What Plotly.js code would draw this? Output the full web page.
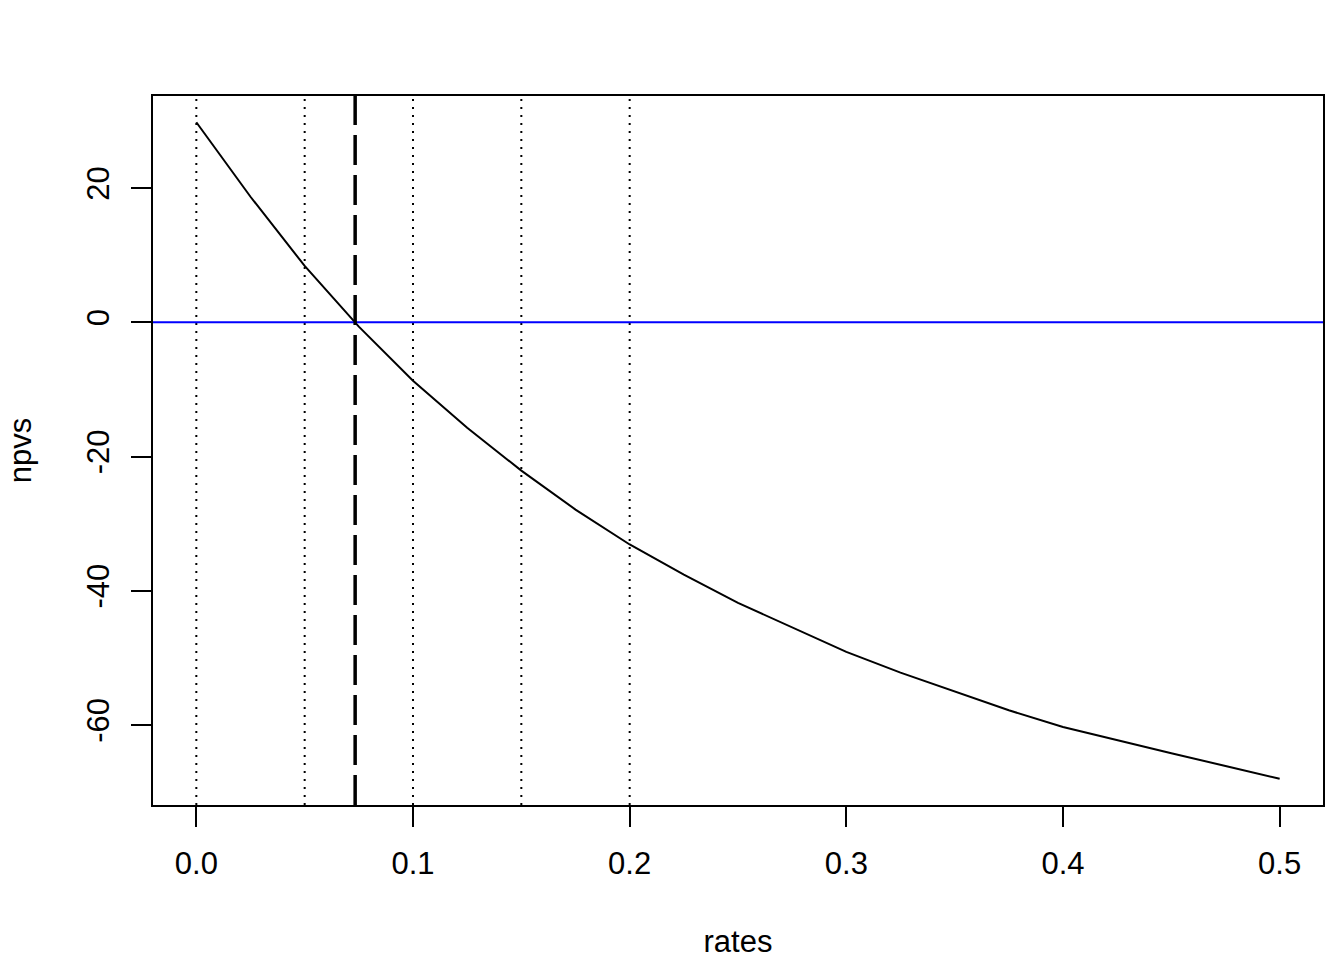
<!DOCTYPE html>
<html>
<head>
<meta charset="utf-8">
<script src="https://cdn.plot.ly/plotly-3.0.1.min.js"></script>
<style>html,body{margin:0;padding:0;background:#fff;}#chart{width:1344px;height:960px;}</style>
</head>
<body>
<div id="chart"></div>
<script>
// Data
const rates = [0, 0.025, 0.05, 0.075, 0.1, 0.125, 0.15, 0.175, 0.2, 0.225, 0.25,
               0.275, 0.3, 0.325, 0.35, 0.375, 0.4, 0.425, 0.45, 0.475, 0.5];
const npvs = [29.8, 18.7, 8.4, -0.65, -8.7, -15.7, -22.1, -27.9, -33.1, -37.6, -41.8,
              -45.4, -49.1, -52.2, -55.0, -57.8, -60.3, -62.3, -64.2, -66.1, -68.0];
const refRates = [0, 0.05, 0.1, 0.15, 0.2];
const irr = 0.0733;
const hLine = 0;
const xTickVals = [0, 0.1, 0.2, 0.3, 0.4, 0.5];
const xTickText = ["0.0", "0.1", "0.2", "0.3", "0.4", "0.5"];
const yTickVals = [-60, -40, -20, 0, 20];
const yTickText = ["-60", "-40", "-20", "0", "20"];

// R-style 4% axis extension
function ext(arr) {
  const mn = Math.min(...arr), mx = Math.max(...arr), d = (mx - mn) * 0.04;
  return [mn - d, mx + d];
}

const FONT = "Liberation Sans, Arial, sans-serif";
const FS = 31;

const shapes = [];
refRates.forEach(r => shapes.push({
  type: 'line', xref: 'x', yref: 'paper', x0: r, x1: r, y0: 0, y1: 1,
  line: {color: 'black', width: 2, dash: '2px,6px'}
}));
shapes.push({
  type: 'line', xref: 'paper', yref: 'y', x0: 0, x1: 1, y0: hLine, y1: hLine,
  line: {color: '#0000FF', width: 2}
});
shapes.push({
  type: 'line', xref: 'x', yref: 'paper', x0: irr, x1: irr, y0: 0, y1: 1,
  line: {color: 'black', width: 3.5, dash: '30px,10px'}
});

const trace = {
  x: rates, y: npvs, type: 'scatter', mode: 'lines',
  line: {color: 'black', width: 2}, hoverinfo: 'skip'
};

const layout = {
  width: 1344, height: 960,
  margin: {l: 153, r: 21, t: 96, b: 155},
  paper_bgcolor: '#fff', plot_bgcolor: '#fff',
  showlegend: false,
  font: {family: FONT, size: FS, color: 'black'},
  xaxis: {
    range: ext(rates), showgrid: false, zeroline: false,
    showline: true, mirror: true, linecolor: 'black', linewidth: 2,
    ticks: 'outside', ticklen: 20, tickwidth: 2, tickcolor: 'black',
    tickmode: 'array', tickvals: xTickVals, ticktext: xTickText,
    tickfont: {family: FONT, size: FS, color: 'black'},
    ticklabelstandoff: 10,
    title: {text: 'rates', font: {family: FONT, size: FS, color: 'black'}, standoff: 50}
  },
  yaxis: {
    range: ext(npvs), showgrid: false, zeroline: false,
    showline: true, mirror: true, linecolor: 'black', linewidth: 2,
    ticks: 'outside', ticklen: 20, tickwidth: 2, tickcolor: 'black',
    tickmode: 'array', tickvals: yTickVals, ticktext: yTickText,
    tickangle: -90,
    tickfont: {family: FONT, size: FS, color: 'black'},
    ticklabelstandoff: 10,
    title: {text: 'npvs', font: {family: FONT, size: FS, color: 'black'}, standoff: 40}
  },
  shapes: shapes
};

Plotly.newPlot('chart', [trace], layout, {displayModeBar: false, staticPlot: true});
</script>
</body>
</html>
